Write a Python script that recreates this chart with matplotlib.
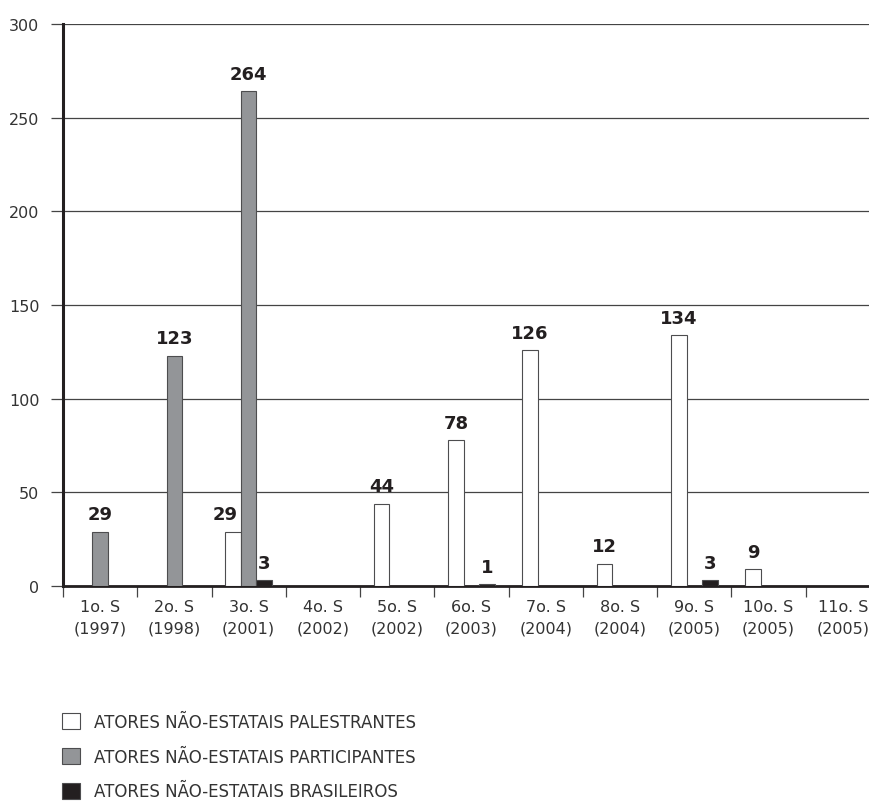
#!/usr/bin/env python3
"""
Atores não-estatais por sessão (barras agrupadas).
"""

import matplotlib
matplotlib.use("Agg")
import matplotlib.pyplot as plt
import numpy as np

sessoes = ["1o. S", "2o. S", "3o. S", "4o. S", "5o. S", "6o. S",
           "7o. S", "8o. S", "9o. S", "10o. S", "11o. S"]
anos = ["1997", "1998", "2001", "2002", "2002", "2003",
        "2004", "2004", "2005", "2005", "2005"]

palestrantes = [0, 0, 29, 0, 44, 78, 126, 12, 134, 9, 0]
participantes = [29, 123, 264, 0, 0, 0, 0, 0, 0, 0, 0]
brasileiros = [0, 0, 3, 0, 0, 1, 0, 0, 3, 0, 0]

nomes = ["ATORES NÃO-ESTATAIS PALESTRANTES",
         "ATORES NÃO-ESTATAIS PARTICIPANTES",
         "ATORES NÃO-ESTATAIS BRASILEIROS"]

TEXT = "#333333"
DARK = "#231f20"
GRID = "#444444"


def main():
    plt.rcParams["font.family"] = ["DejaVu Sans"]

    fig = plt.figure(figsize=(8.7, 8.03), dpi=100)
    ax = fig.add_axes([63 / 870, 1 - 587 / 803, 817 / 870, 562 / 803])

    x = np.arange(len(sessoes))
    w = 0.21
    series = [
        (palestrantes, -w, "white"),
        (participantes, 0.0, "#939598"),
        (brasileiros, w, DARK),
    ]
    handles = []
    for k, (vals, off, color) in enumerate(series):
        vals = np.array(vals)
        keep = vals > 0
        bars = ax.bar(x[keep] + off, vals[keep], w, color=color,
                      edgecolor="#4d4d4f", linewidth=0.8, zorder=3)
        handles.append(bars)
        for xi in x[keep]:
            v = vals[xi]
            # nudge a label left when the next bar of the group is taller
            shift = 0
            if k + 1 < len(series) and series[k + 1][0][xi] > v:
                shift = -6
            ax.annotate(str(v), (xi + off, v), xytext=(shift, 6),
                        textcoords="offset points", ha="center",
                        va="bottom", fontsize=13, fontweight="bold",
                        color=DARK)

    ax.set_xlim(-0.5, len(sessoes) - 0.5)
    ax.set_ylim(0, 300)
    ax.set_yticks(range(0, 301, 50))
    ax.yaxis.grid(True, color=GRID, linewidth=0.9, zorder=0)
    ax.tick_params(axis="y", length=9, width=0.9, color=GRID, pad=8,
                   labelsize=11.5, labelcolor=TEXT)

    ax.set_xticks(np.arange(len(sessoes) + 1) - 0.5)
    ax.set_xticklabels([])
    ax.tick_params(axis="x", which="major", length=8, width=0.9, color=GRID)
    ax.set_xticks(x, minor=True)
    ax.set_xticklabels([f"{s}\n({a})" for s, a in zip(sessoes, anos)],
                       minor=True, linespacing=1.55)
    ax.tick_params(axis="x", which="minor", length=0, pad=9,
                   labelsize=11.5, labelcolor=TEXT)

    for side in ["top", "right"]:
        ax.spines[side].set_visible(False)
    ax.spines["left"].set_linewidth(2.2)
    ax.spines["left"].set_color(DARK)
    ax.spines["bottom"].set_linewidth(2.0)
    ax.spines["bottom"].set_color(DARK)
    ax.set_axisbelow(True)

    fig.legend(handles, nomes, loc="upper left",
               bbox_to_anchor=(62 / 870, 1 - 714 / 803), frameon=False,
               fontsize=12, handlelength=1.1, handleheight=1.1,
               handletextpad=0.85, labelspacing=1.0, borderpad=0,
               borderaxespad=0, labelcolor=TEXT)

    fig.savefig("out.png", dpi=100)


if __name__ == "__main__":
    main()
